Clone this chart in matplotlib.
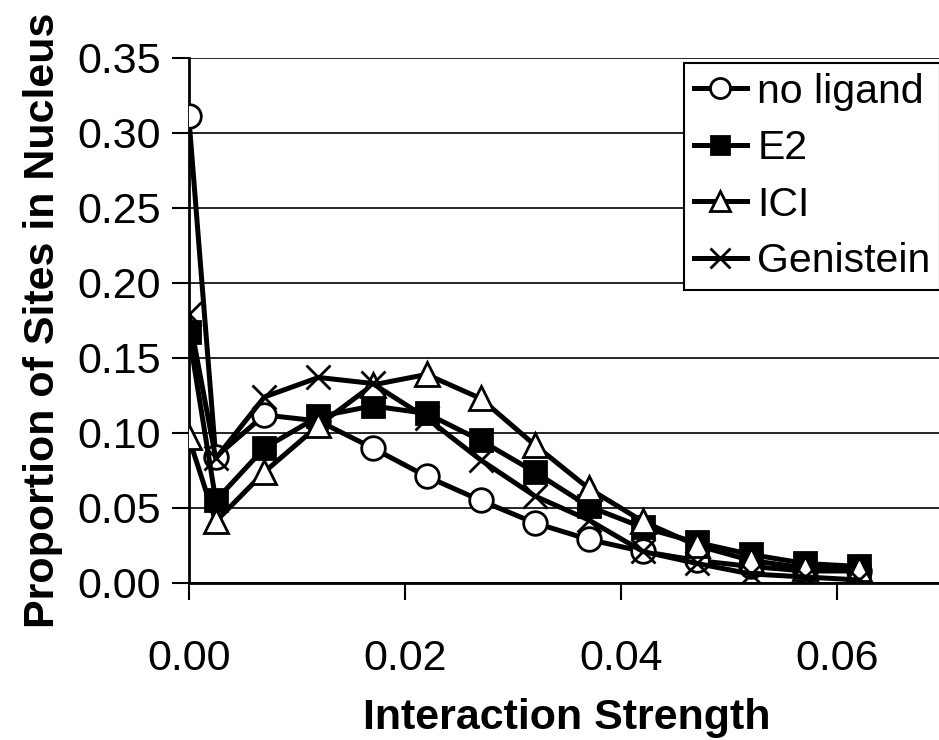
import matplotlib
matplotlib.use('Agg')
import matplotlib.pyplot as plt

plt.rcParams['font.family'] = ['Liberation Sans', 'DejaVu Sans']

# interaction strength bins
strength = [0.0, 0.0025, 0.007, 0.012, 0.017, 0.022, 0.027, 0.032,
            0.037, 0.042, 0.047, 0.052, 0.057, 0.062]

no_ligand = [0.311, 0.084, 0.112, 0.108, 0.090, 0.071, 0.055, 0.040,
             0.029, 0.021, 0.015, 0.011, 0.008, 0.008]
e2 = [0.167, 0.055, 0.090, 0.111, 0.118, 0.113, 0.095, 0.074,
      0.051, 0.037, 0.027, 0.019, 0.013, 0.011]
ici = [0.097, 0.041, 0.074, 0.105, 0.132, 0.139, 0.123, 0.092,
       0.063, 0.041, 0.025, 0.015, 0.010, 0.009]
genistein = [0.179, 0.083, 0.124, 0.137, 0.133, 0.110, 0.082, 0.058,
             0.042, 0.021, 0.013, 0.006, 0.004, 0.002]

x_ticks = [0.0, 0.02, 0.04, 0.06]
y_ticks = [0.0, 0.05, 0.10, 0.15, 0.20, 0.25, 0.30, 0.35]

fig = plt.figure(figsize=(9.39, 7.40), dpi=100)
ax = fig.add_axes([0.201, 0.2122, 0.806, 0.7095])

lw = 3.6
ms = 17
mew = 2.0
ax.plot(strength, no_ligand, color='black', lw=lw, marker='o', ms=ms,
        mfc='white', mec='black', mew=mew, label='no ligand', zorder=3)
ax.plot(strength, e2, color='black', lw=lw, marker='s', ms=ms - 1,
        mfc='black', mec='black', mew=mew, label='E2', zorder=3)
ax.plot(strength, ici, color='black', lw=lw, marker='^', ms=ms,
        mfc='white', mec='black', mew=mew, label='ICI', zorder=3)
ax.plot(strength, genistein, color='black', lw=lw, marker='x', ms=ms,
        mec='black', mew=mew, label='Genistein', zorder=3)

ax.set_xlim(0, 0.07)
ax.set_ylim(0, 0.35)
ax.set_xticks(x_ticks)
ax.set_xticklabels([f'{t:.2f}' for t in x_ticks])
ax.set_yticks(y_ticks)
ax.set_yticklabels([f'{t:.2f}' for t in y_ticks])
ax.tick_params(axis='both', labelsize=31, direction='out', length=12,
               width=1.5, color='black')
ax.tick_params(axis='x', pad=28)
ax.tick_params(axis='y', pad=8)

ax.grid(axis='y', color='black', lw=1.2)
ax.set_axisbelow(True)
for side in ['top', 'right']:
    ax.spines[side].set_visible(False)
ax.spines['left'].set_linewidth(2)
ax.spines['bottom'].set_linewidth(2)

ax.set_xlabel('Interaction Strength', fontsize=31, fontweight='bold',
              labelpad=14)
ax.set_ylabel('Proportion of Sites in Nucleus', fontsize=31,
              fontweight='bold', labelpad=10)

leg = ax.legend(loc='upper left', bbox_to_anchor=(684 / 939, 1 - 63 / 740),
                bbox_transform=fig.transFigure, fontsize=29.5, frameon=True,
                fancybox=False, edgecolor='black', framealpha=1,
                handlelength=1.3, handletextpad=0.25, labelspacing=0.45,
                borderpad=0.24, borderaxespad=0, markerscale=0.85)
leg.get_frame().set_linewidth(1.5)

fig.savefig('out.png', dpi=100)
